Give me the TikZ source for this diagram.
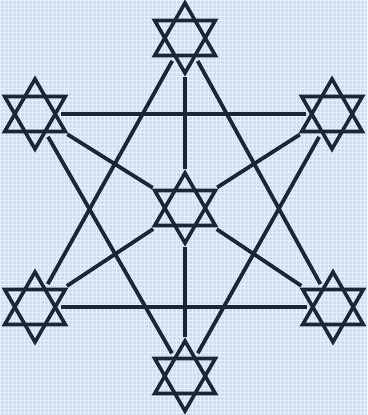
\documentclass[tikz,border=0pt]{standalone}
\usetikzlibrary{calc}
\definecolor{ink}{HTML}{1C2633}
\definecolor{bgblue}{HTML}{C9DFF8}
\definecolor{gridw}{HTML}{E6F0FC}
\tikzset{
  hub/.style={circle,inner sep=0pt,minimum size=0pt},
  link/.style={draw=ink,line width=3.8pt},
  starline/.style={draw=ink,line width=3.6pt,line join=miter},
  pics/hexstar/.style={code={
    \draw[starline] (0,-35) -- (30.31,17.5) -- (-30.31,17.5) -- cycle;
    \draw[starline] (0,35) -- (30.31,-17.5) -- (-30.31,-17.5) -- cycle;
  }}
}
\begin{document}
\begin{tikzpicture}[x=1pt,y=-1pt]
\useasboundingbox (0,0) rectangle (367,415);
\fill[bgblue] (0,0) rectangle (367,415);
\draw[gridw,line width=0.9pt,step=4pt] (0,0) grid (367,415);
% hubs
\node[hub] (T)  at (185,38)  {};
\node[hub] (UL) at (35,114)  {};
\node[hub] (UR) at (332,114) {};
\node[hub] (C)  at (185,208) {};
\node[hub] (LL) at (35,307)  {};
\node[hub] (LR) at (333,307) {};
\node[hub] (B)  at (185,376) {};
% connectors
\draw[link,shorten <=26pt,shorten >=26pt] (UL) -- (UR);
\draw[link,shorten <=26pt,shorten >=26pt] (LL) -- (LR);
\draw[link,shorten <=39pt,shorten >=39pt] (T) -- (C);
\draw[link,shorten <=39pt,shorten >=39pt] (C) -- (B);
\draw[link,shorten <=38pt,shorten >=38pt] (C) -- (UL);
\draw[link,shorten <=38pt,shorten >=38pt] (C) -- (UR);
\draw[link,shorten <=38pt,shorten >=38pt] (C) -- (LL);
\draw[link,shorten <=38pt,shorten >=38pt] (C) -- (LR);
\draw[link,shorten <=26pt,shorten >=26pt] (T) -- (LL);
\draw[link,shorten <=26pt,shorten >=26pt] (T) -- (LR);
\draw[link,shorten <=26pt,shorten >=26pt] (UL) -- (B);
\draw[link,shorten <=26pt,shorten >=26pt] (UR) -- (B);
% stars
\foreach \n in {T,UL,UR,C,LL,LR,B} {
  \pic at (\n) {hexstar};
}
\end{tikzpicture}
\end{document}
